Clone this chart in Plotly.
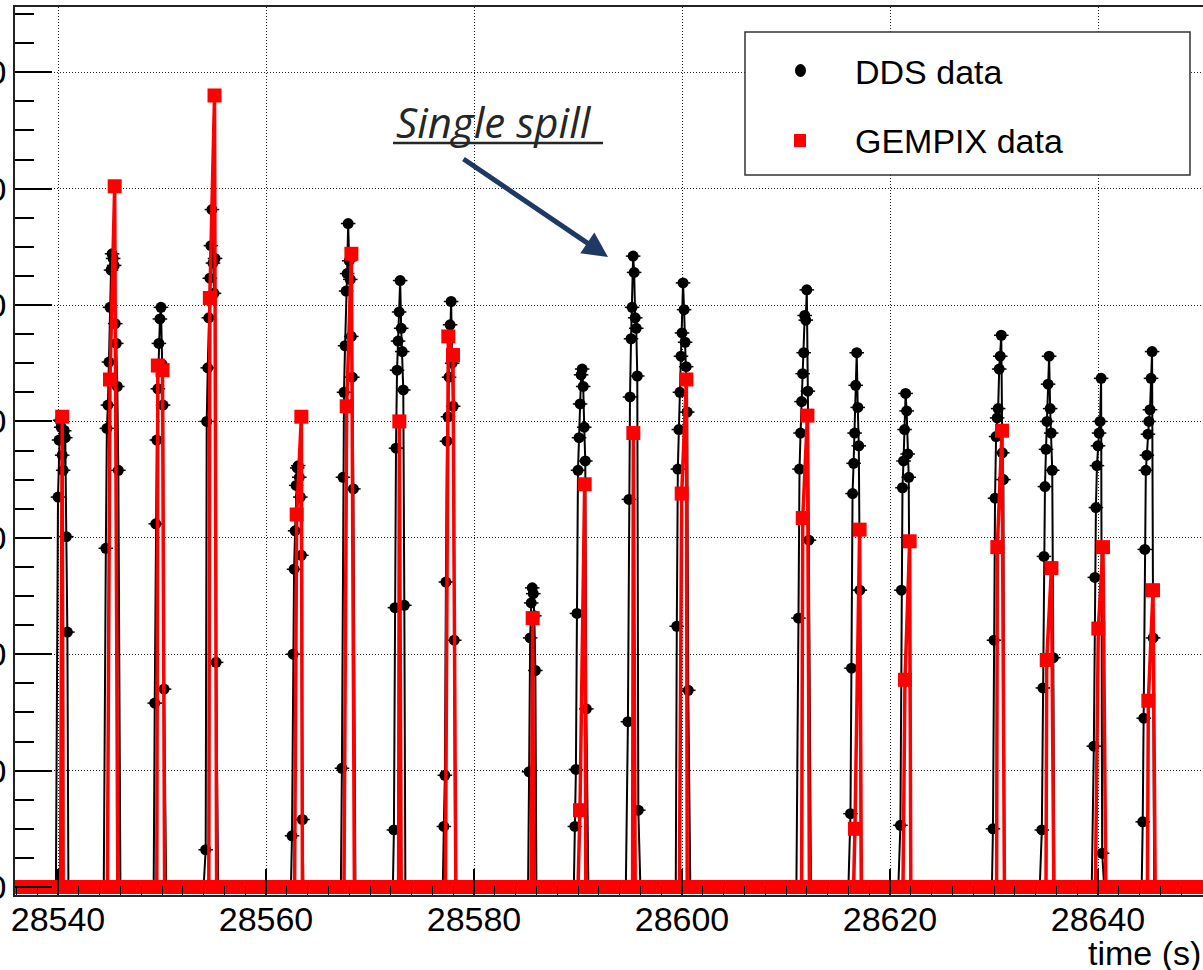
import numpy as np
import plotly.graph_objects as go

# ---- data -------------------------------------------------------------
# DDS: start time of each spill (s) and readings, one every 0.1 s
dds_start = [28540.0, 28544.6, 28549.3, 28554.2, 28562.5, 28567.3, 28572.3,
             28577.1, 28585.3, 28589.7, 28594.8, 28599.5, 28611.2, 28616.2,
             28621.0, 28629.9, 28634.6, 28639.6, 28644.3]
dds_step = 0.1
dds_values = [
    [335, 384, 401, 395, 371, 358, 392, 386, 301, 219],
    [291, 394, 414, 451, 498, 530, 544, 540, 534, 484, 467, 430, 358],
    [158, 312, 384, 428, 467, 488, 498, 449, 414, 170],
    [32, 400, 446, 489, 523, 551, 582, 536, 510, 540, 193],
    [44, 200, 273, 306, 345, 360, 362, 352, 335, 285, 58],
    [102, 352, 425, 465, 512, 527, 570, 538, 522, 473, 438, 342],
    [49, 240, 377, 444, 469, 494, 521, 480, 460, 427, 242],
    [52, 96, 262, 383, 404, 438, 483, 503, 450, 413, 212],
    [99, 214, 244, 257, 252, 233, 186],
    [52, 101, 235, 358, 386, 415, 440, 445, 430, 395, 366, 153],
    [142, 333, 421, 471, 498, 542, 528, 489, 480, 439, 66],
    [224, 359, 393, 425, 456, 476, 519, 496, 468, 447, 408, 169],
    [231, 359, 390, 417, 441, 459, 491, 487, 513, 426, 298],
    [63, 188, 338, 364, 390, 431, 459, 412, 379, 255],
    [53, 255, 343, 366, 393, 424, 409, 372, 352],
    [50, 212, 334, 387, 403, 411, 445, 456, 474, 373, 350],
    [49, 171, 284, 344, 376, 400, 432, 456, 411, 390, 358, 197],
    [121, 266, 326, 362, 379, 390, 400, 437, 29],
    [56, 145, 290, 358, 371, 389, 400, 410, 437, 460, 214],
]

# GEMPIX: start time of each spill (s) and readings, one every 0.45 s
gem_start = [28540.4, 28545.0, 28549.6, 28554.6, 28562.95, 28567.76, 28572.82,
             28577.53, 28585.64, 28590.19, 28595.32, 28599.97, 28611.61,
             28616.63, 28621.44, 28630.32, 28635.07, 28640.03, 28644.84]
gem_step = 0.45
gem_values = [
    [404], [436, 602], [448, 444], [506, 680], [320, 404], [413, 544], [400],
    [473, 457], [231], [66, 346], [390], [338, 436], [317, 405], [50, 307],
    [178, 297], [292, 392], [195, 274], [222, 292], [160, 255],
]

# idle readings between spills are zero
dds_idle_step = 0.2
gem_idle_step = 0.25
t_begin, t_end = 28535.0, 28651.0

x_ticks = [28540, 28560, 28580, 28600, 28620, 28640]
y_ticks = [0, 100, 200, 300, 400, 500, 600, 700]


def build_series(starts, values, step, idle_step, guard):
    t_sp, v_sp, windows = [], [], []
    for s, vals in zip(starts, values):
        ts = [s + i * step for i in range(len(vals))]
        t_sp += ts
        v_sp += list(vals)
        windows.append((ts[0] - guard, ts[-1] + guard))
    idle = np.arange(t_begin, t_end, idle_step)
    keep = [t for t in idle if not any(a <= t <= b for a, b in windows)]
    t_all = np.array(t_sp + keep)
    v_all = np.array(v_sp + [0.0] * len(keep))
    order = np.argsort(t_all)
    return t_all[order], v_all[order]


dds_t, dds_v = build_series(dds_start, dds_values, dds_step, dds_idle_step, 0.05)
gem_t, gem_v = build_series(gem_start, gem_values, gem_step, gem_idle_step, 0.06)

# ---- frame geometry (pixels) -----------------------------------------
FIG_W, FIG_H = 1203, 970
L, T, B = 15, 7, 895
W, H = FIG_W - L, B - T


def fx(p):
    return (p - L) / W


def fy(p):
    return (B - p) / H


FONT = "Liberation Sans, Arial, Helvetica, sans-serif"

fig = go.Figure()

fig.add_trace(go.Scatter(
    x=dds_t, y=dds_v, mode="lines+markers", name="DDS data",
    line=dict(color="black", width=2),
    marker=dict(symbol="circle", size=11, color="black"),
    error_x=dict(type="constant", value=0.7, thickness=1.5, width=0, color="black"),
    showlegend=False,
))

fig.add_trace(go.Scatter(
    x=gem_t, y=gem_v, mode="lines+markers", name="GEMPIX data",
    line=dict(color="#ff0000", width=3.5),
    marker=dict(symbol="square", size=14, color="#ff0000"),
    showlegend=False,
))

grid = dict(showgrid=True, gridcolor="#222222", gridwidth=1, griddash="1px,2px")

fig.update_xaxes(
    range=[28540 - 43 / 10.4, 28540 + 1145 / 10.4],
    tickmode="array", tickvals=x_ticks, ticktext=[str(v) for v in x_ticks],
    ticks="inside", ticklen=26, tickwidth=1.5, tickcolor="black",
    minor=dict(ticks="inside", ticklen=9, tickwidth=1, tickcolor="black",
               dtick=2, tick0=28540, showgrid=False),
    showline=True, linecolor="#222222", linewidth=1.5, mirror=True,
    tickfont=dict(family=FONT, size=34, color="black"),
    ticklabelstandoff=-7,
    zeroline=False, automargin=False, **grid,
)

fig.update_yaxes(
    range=[-(B - 887) / 1.164, (887 - T) / 1.164],
    tickmode="array", tickvals=y_ticks, ticktext=[str(v) for v in y_ticks],
    ticks="inside", ticklen=37, tickwidth=1.5, tickcolor="black",
    minor=dict(ticks="inside", ticklen=19, tickwidth=1.5, tickcolor="black",
               dtick=25, tick0=0, showgrid=False),
    showline=True, linecolor="#222222", linewidth=1.5, mirror=False,
    tickfont=dict(family=FONT, size=34, color="black"),
    ticklabelstandoff=0,
    zeroline=False, automargin=False, **grid,
)

shapes = [
    # legend box
    dict(type="rect", xref="paper", yref="paper",
         x0=fx(745), x1=fx(1190), y0=fy(175), y1=fy(32),
         line=dict(color="#333333", width=1.5), fillcolor="white", layer="above"),
    dict(type="circle", xref="paper", yref="paper",
         x0=fx(795), x1=fx(806), y0=fy(77), y1=fy(64),
         line=dict(color="black", width=0), fillcolor="black", layer="above"),
    dict(type="rect", xref="paper", yref="paper",
         x0=fx(794), x1=fx(806), y0=fy(147), y1=fy(134),
         line=dict(color="#ff0000", width=0), fillcolor="#ff0000", layer="above"),
    # underline of the callout text
    dict(type="line", xref="paper", yref="paper",
         x0=fx(393), x1=fx(603), y0=fy(143), y1=fy(143),
         line=dict(color="#262626", width=2.5), layer="above"),
]

annotations = [
    dict(text="DDS data", xref="paper", yref="paper", x=fx(853), y=fy(72),
         xanchor="left", yanchor="middle", showarrow=False,
         font=dict(family=FONT, size=34, color="black")),
    dict(text="GEMPIX data", xref="paper", yref="paper", x=fx(853), y=fy(141),
         xanchor="left", yanchor="middle", showarrow=False,
         font=dict(family=FONT, size=34, color="black")),
    dict(text="time (s)", xref="paper", yref="paper", x=1.0, y=fy(953),
         xanchor="right", yanchor="middle", showarrow=False,
         font=dict(family=FONT, size=34, color="black")),
    dict(text="<i>Single spill</i>", xref="paper", yref="paper", x=fx(394), y=fy(121),
         xanchor="left", yanchor="middle", showarrow=False,
         font=dict(family="Open Sans, sans-serif", size=42, color="#262626")),
    dict(text="", xref="paper", yref="paper", x=fx(608), y=fy(257),
         ax=462 - 608, ay=158 - 257, showarrow=True,
         arrowcolor="#1f3864", arrowwidth=5, arrowhead=2, arrowsize=1.0),
]

fig.update_layout(
    width=FIG_W, height=FIG_H,
    margin=dict(l=L, r=0, t=T, b=FIG_H - B, pad=0),
    template="none",
    paper_bgcolor="white", plot_bgcolor="white",
    shapes=shapes, annotations=annotations,
    showlegend=False,
)

fig.write_html("out.html")
